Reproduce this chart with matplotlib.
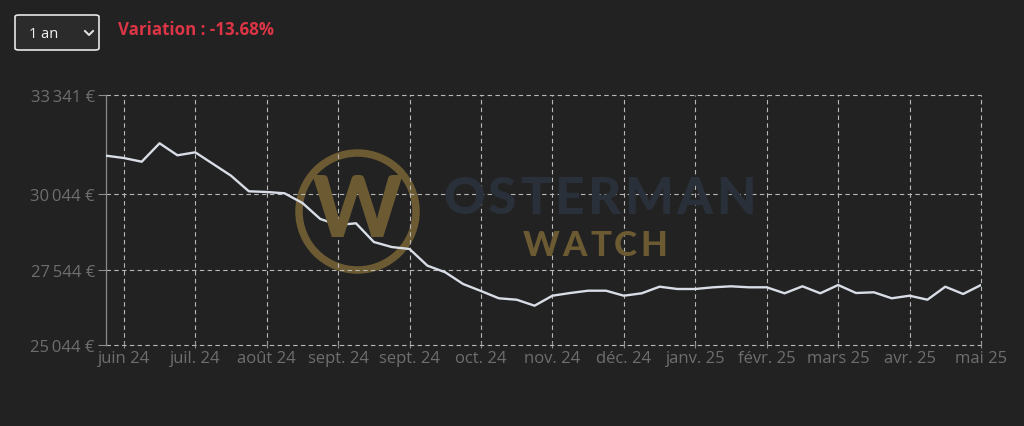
import matplotlib
matplotlib.use("Agg")
import matplotlib.pyplot as plt
from matplotlib.patches import Circle, FancyBboxPatch
from matplotlib.lines import Line2D
from matplotlib.transforms import Affine2D

plt.rcParams['font.family'] = ['Open Sans', 'DejaVu Sans']

# ---- data ----
values = [31327, 31250, 31127, 31738, 31340, 31439, 31051, 30663, 30145, 30122,
          30079, 29757, 29226, 29027, 29083, 28462, 28296, 28230, 27676, 27457,
          27068, 26836, 26594, 26547, 26348, 26680, 26770, 26846, 26846, 26680,
          26760, 26979, 26903, 26903, 26959, 26992, 26959, 26959, 26760, 26992,
          26760, 27035, 26770, 26793, 26594, 26680, 26547, 26979, 26737, 27035]
tick_labels = ["juin 24", "juil. 24", "août 24", "sept. 24", "sept. 24", "oct. 24",
               "nov. 24", "déc. 24", "janv. 25", "févr. 25", "mars 25", "avr. 25", "mai 25"]
y_ticks = [25044, 27544, 30044, 33341]
variation_text = "Variation : -13.68%"
period_text = "1 an"

BG = "#222222"
W, H = 1024, 427
fig = plt.figure(figsize=(W / 100, H / 100), dpi=100, facecolor=BG)
renderer = fig.canvas.get_renderer()

def fx(px):
    return px / W

def fy(py):
    return 1 - py / H

ax = fig.add_axes([fx(106), fy(346), fx(981) - fx(106), fy(96) - fy(346)])
ax.set_facecolor(BG)

x = list(range(len(values)))
ax.set_xlim(0, len(values) - 1)
ax.set_ylim(y_ticks[0], y_ticks[-1])

# ---- watermark logo (behind grid) ----
gold = "#6b5a32"
logo_font = ["Lato", "DejaVu Sans"]
disp = Affine2D().scale(1, -1).translate(0, H)
ax.add_patch(Circle((357.5, 212.5), 58.5, transform=disp, fill=False,
                    edgecolor=gold, linewidth=5.4, zorder=0.5, clip_on=False))
fig.text(fx(357.5), fy(213), "W", ha="center", va="center", fontsize=62,
         fontweight="black", family=logo_font, color=gold, zorder=0.5)


def spaced_word(word, x0, x1, ycen, size, color):
    arts = []
    widths = []
    for ch in word:
        t = fig.text(0, fy(ycen), ch, ha="left", va="center", fontsize=size,
                     fontweight="black", family=logo_font, color=color, zorder=0.5)
        widths.append(t.get_window_extent(renderer).width)
        arts.append(t)
    total = sum(widths)
    gap = (x1 - x0 - total) / (len(word) - 1)
    xp = x0
    for t, w in zip(arts, widths):
        t.set_x(fx(xp))
        xp += w + gap


spaced_word("OSTERMAN", 443, 756, 200, 37, "#29303a")
spaced_word("WATCH", 523, 667, 246, 25, gold)

# ---- line ----
ax.plot(x, values, color="#d8dde6", linewidth=1.7, zorder=3)

# ---- axes styling ----
xt = list(range(1, len(values), 4))
ax.set_xticks(xt)
ax.set_xticklabels(tick_labels)
ax.set_yticks(y_ticks)
ax.set_yticklabels([f"{v:,}".replace(",", "\u2009") + " €" for v in y_ticks])

for s in ["top", "right", "bottom"]:
    ax.spines[s].set_visible(False)
ax.spines["left"].set_color("#8a8a8a")
ax.spines["left"].set_linewidth(0.9)

ax.tick_params(axis="y", colors="#8a8a8a", length=6, width=0.8, pad=2,
               labelcolor="#6e6e6e", labelsize=12)
ax.tick_params(axis="x", colors="#8a8a8a", length=5, width=0.8, direction="inout",
               pad=1, labelcolor="#6e6e6e", labelsize=12)

ax.grid(True, color="#b8b8b8", linewidth=0.8, linestyle=(0, (4, 3)))
for gl in ax.get_xgridlines() + ax.get_ygridlines():
    gl.set_clip_on(False)
ax.set_axisbelow("line")

# ---- top controls ----
box = FancyBboxPatch((fx(15), fy(51)), fx(99) - fx(15), fy(16) - fy(51),
                     boxstyle="round,pad=0,rounding_size=0.004",
                     transform=fig.transFigure, facecolor="#2b2b2b",
                     edgecolor="#e6e6e6", linewidth=1.2)
fig.patches.append(box)
fig.text(fx(29), fy(34), period_text, ha="left", va="center", fontsize=10.5, color="#f2f2f2")
fig.add_artist(Line2D([fx(85), fx(89), fx(93)], [fy(32), fy(36), fy(32)],
                      transform=fig.transFigure, color="#e6e6e6", linewidth=1.4))
fig.text(fx(118), fy(30), variation_text, ha="left", va="center", fontsize=12.2,
         fontweight="bold", color="#dc3545")

fig.savefig("out.png", dpi=100, facecolor=BG)
